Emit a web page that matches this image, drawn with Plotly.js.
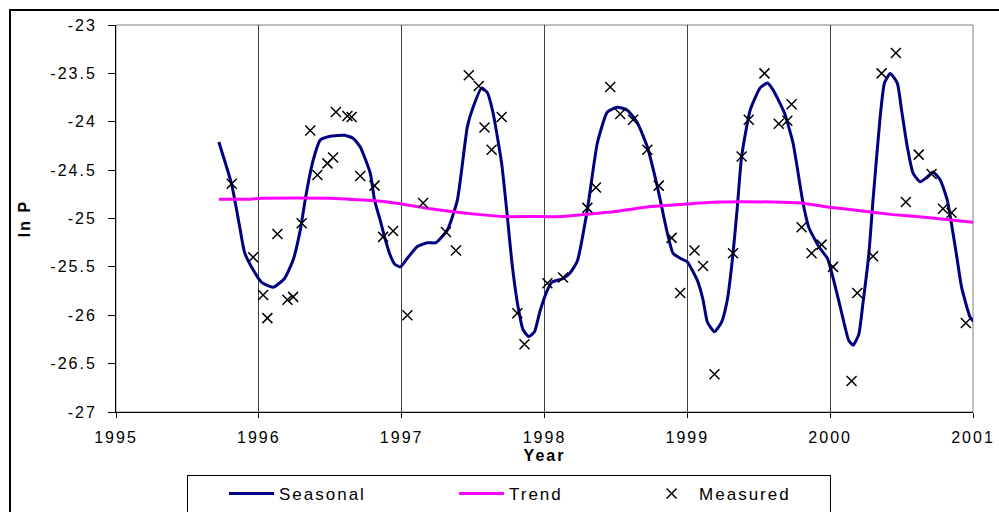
<!DOCTYPE html>
<html><head><meta charset="utf-8">
<script src="https://cdn.plot.ly/plotly-3.0.1.min.js"></script>
<style>
html,body{margin:0;padding:0;background:#fff;overflow:hidden;}
#wrap{position:relative;width:999px;height:512px;overflow:hidden;}
#chart{width:999px;height:512px;}
#frame{position:absolute;left:9px;top:9px;width:1100px;height:700px;border:2px solid #000;pointer-events:none;}
svg text{letter-spacing:2px;}
</style></head><body>
<div id="wrap"><div id="chart"></div><div id="frame"></div></div>
<script>
// Seasonal fit curve
const seasonalYear = [1995.72,1995.81,1995.87,1995.90,1995.96,1996.02,1996.10,1996.18,1996.24,1996.29,1996.33,1996.38,1996.43,1996.50,1996.60,1996.66,1996.71,1996.78,1996.81,1996.85,1996.88,1996.92,1996.95,1996.99,1997.04,1997.11,1997.18,1997.24,1997.32,1997.39,1997.46,1997.50,1997.56,1997.60,1997.64,1997.70,1997.74,1997.77,1997.81,1997.85,1997.89,1997.93,1997.97,1998.02,1998.05,1998.13,1998.18,1998.23,1998.30,1998.37,1998.44,1998.51,1998.58,1998.65,1998.72,1998.79,1998.86,1998.90,1998.95,1999.00,1999.07,1999.11,1999.14,1999.19,1999.24,1999.28,1999.32,1999.35,1999.38,1999.44,1999.51,1999.56,1999.60,1999.68,1999.74,1999.81,1999.85,1999.92,1999.98,2000.00,2000.03,2000.07,2000.13,2000.16,2000.20,2000.23,2000.27,2000.30,2000.35,2000.38,2000.42,2000.47,2000.50,2000.54,2000.58,2000.63,2000.68,2000.72,2000.77,2000.82,2000.86,2000.89,2000.92,2000.98,2001.01];
const seasonalValue = [-24.21,-24.65,-25.12,-25.35,-25.53,-25.66,-25.71,-25.62,-25.43,-25.12,-24.76,-24.40,-24.19,-24.15,-24.14,-24.17,-24.26,-24.53,-24.81,-25.02,-25.19,-25.38,-25.47,-25.50,-25.41,-25.29,-25.25,-25.25,-25.12,-24.81,-24.05,-23.85,-23.65,-23.70,-23.91,-24.43,-24.98,-25.43,-25.87,-26.15,-26.22,-26.17,-25.95,-25.74,-25.66,-25.62,-25.56,-25.44,-24.91,-24.22,-23.90,-23.85,-23.88,-24.01,-24.26,-24.67,-25.15,-25.36,-25.41,-25.45,-25.64,-25.84,-26.07,-26.17,-26.07,-25.84,-25.36,-24.88,-24.36,-23.88,-23.65,-23.60,-23.67,-23.91,-24.22,-24.84,-25.09,-25.29,-25.41,-25.50,-25.67,-25.91,-26.26,-26.31,-26.20,-25.87,-25.38,-24.81,-23.95,-23.60,-23.50,-23.60,-23.88,-24.26,-24.53,-24.62,-24.57,-24.52,-24.60,-24.81,-25.15,-25.43,-25.71,-26.02,-26.07];
// Long-term trend
const trendYear = [1995.72,1995.94,1996.02,1996.50,1996.73,1996.90,1997.04,1997.20,1997.36,1997.55,1997.71,1997.90,1998.13,1998.27,1998.48,1998.72,1999.00,1999.21,1999.60,1999.79,1999.98,2000.21,2000.44,2000.68,2001.00];
const trendValue = [-24.80,-24.80,-24.79,-24.79,-24.81,-24.83,-24.86,-24.90,-24.93,-24.96,-24.98,-24.98,-24.98,-24.96,-24.93,-24.88,-24.85,-24.83,-24.83,-24.84,-24.88,-24.92,-24.96,-24.99,-25.04];
// Measured values
const measuredYear = [1995.81,1995.96,1996.03,1996.06,1996.13,1996.20,1996.24,1996.30,1996.36,1996.41,1996.48,1996.52,1996.54,1996.62,1996.65,1996.71,1996.81,1996.87,1996.94,1997.04,1997.15,1997.31,1997.38,1997.47,1997.54,1997.58,1997.63,1997.70,1997.81,1997.86,1998.02,1998.13,1998.30,1998.36,1998.46,1998.53,1998.62,1998.72,1998.80,1998.89,1998.95,1999.05,1999.11,1999.19,1999.32,1999.38,1999.43,1999.54,1999.64,1999.70,1999.73,1999.80,1999.87,1999.94,2000.02,2000.15,2000.19,2000.30,2000.36,2000.46,2000.53,2000.62,2000.71,2000.79,2000.85,2000.95];
const measuredValue = [-24.64,-25.40,-25.79,-26.03,-25.16,-25.84,-25.81,-25.05,-24.09,-24.55,-24.43,-24.37,-23.90,-23.94,-23.95,-24.56,-24.66,-25.19,-25.13,-26.00,-24.84,-25.14,-25.33,-23.52,-23.63,-24.06,-24.29,-23.95,-25.98,-26.30,-25.67,-25.61,-24.89,-24.68,-23.64,-23.92,-23.98,-24.29,-24.66,-25.20,-25.77,-25.33,-25.49,-26.61,-25.36,-24.36,-23.98,-23.50,-24.02,-23.99,-23.82,-25.09,-25.36,-25.27,-25.50,-26.68,-25.77,-25.39,-23.50,-23.29,-24.83,-24.34,-24.54,-24.90,-24.94,-26.08];
// Axis ticks
const xTickValues = [1995,1996,1997,1998,1999,2000,2001];
const xTickLabels = ['1995','1996','1997','1998','1999','2000','2001'];
const yTickValues = [-27,-26.5,-26,-25.5,-25,-24.5,-24,-23.5,-23];
const yTickLabels = ['-27','-26.5','-26','-25.5','-25','-24.5','-24','-23.5','-23'];
const seriesNames = ['Seasonal','Trend','Measured'];

const FONT = 'Arial, "Liberation Sans", sans-serif';
const NB = '\u00a0';

const traces = [
  {x: seasonalYear, y: seasonalValue, name: seriesNames[0] + NB.repeat(7), mode: 'lines',
   line: {color: '#000080', width: 3, shape: 'spline', smoothing: 0.5}},
  {x: trendYear, y: trendValue, name: seriesNames[1] + NB.repeat(6), mode: 'lines',
   line: {color: '#ff00ff', width: 3, shape: 'spline', smoothing: 0.5}},
  {x: measuredYear, y: measuredValue, name: seriesNames[2] + NB.repeat(5), mode: 'markers',
   marker: {symbol: 'x-thin', size: 10, color: '#000', line: {color: '#000', width: 1.5}}}
];

const layout = {
  width: 999, height: 512,
  margin: {l: 116, r: 26, t: 25, b: 100},
  paper_bgcolor: '#fff', plot_bgcolor: '#fff',
  font: {family: FONT, size: 16, color: '#000'},
  showlegend: true,
  legend: {orientation: 'h', xref: 'container', yref: 'container',
    x: 0.1872, xanchor: 'left', y: 0.0723, yanchor: 'top',
    bordercolor: '#000', borderwidth: 1, bgcolor: '#fff', itemwidth: 45, indentation: 36,
    font: {family: FONT, size: 17, color: '#000'}, traceorder: 'normal'},
  xaxis: {range: [1995, 2001], tickmode: 'array', tickvals: xTickValues, ticktext: xTickLabels,
    showgrid: true, gridcolor: '#404040', gridwidth: 1, zeroline: false,
    showline: true, linecolor: '#000', linewidth: 1, mirror: false,
    ticks: 'outside', ticklen: 5, tickcolor: '#000', ticklabelstandoff: 6,
    tickfont: {family: FONT, size: 16, color: '#000'},
    title: {text: 'Year', font: {family: FONT, size: 16, color: '#000', weight: 'bold'}, standoff: 4}},
  yaxis: {range: [-27, -23], tickmode: 'array', tickvals: yTickValues, ticktext: yTickLabels,
    showgrid: false, zeroline: false,
    showline: true, linecolor: '#000', linewidth: 1, mirror: false,
    ticks: 'outside', ticklen: 7, tickcolor: '#000', ticklabelstandoff: 8,
    tickfont: {family: FONT, size: 16, color: '#000'},
    title: {text: 'ln P', font: {family: FONT, size: 16, color: '#000', weight: 'bold'}, standoff: 15}},
  shapes: [
    {type: 'rect', xref: 'paper', yref: 'paper', x0: 0, x1: 1, y0: 0, y1: 1,
     line: {color: '#808080', width: 1}, layer: 'below'}
  ]
};

Plotly.newPlot('chart', traces, layout, {displayModeBar: false, staticPlot: true});
</script>
</body></html>
